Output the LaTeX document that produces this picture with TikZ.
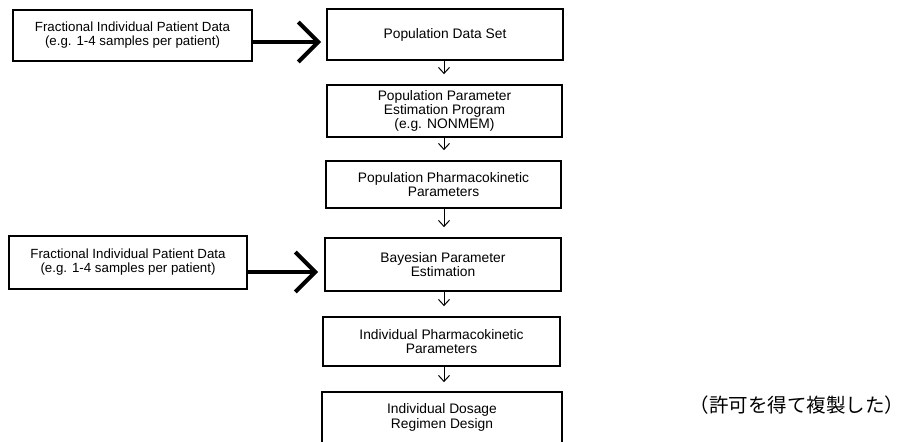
\documentclass[tikz,border=0pt]{standalone}
\usepackage{fontspec}
\setmainfont{Liberation Sans}
\newfontfamily\jpfont{Noto Sans CJK JP}
\usetikzlibrary{arrows.meta}
\begin{document}
\begin{tikzpicture}[x=1pt,y=-1pt,
  box/.style={draw, line width=1.7pt, inner sep=0pt, align=center,
    font=\fontsize{13.8}{14.5}\selectfont},
  lbox/.style={box, font=\fontsize{13.3}{14}\selectfont},
  bigarrow/.style={line width=4pt, -{Straight Barb[length=20pt,width=40pt]}},
  smallarrow/.style={line width=1pt, -{Straight Barb[length=6pt,width=11pt]}, shorten >=10pt}]
\useasboundingbox (0,0) rectangle (911,442);
% left input boxes
\node[lbox, minimum width=239pt, minimum height=51pt] (L1) at (132.5,35.5)
  {Fractional Individual Patient Data\\(e.g. 1-4 samples per patient)};
\node[lbox, minimum width=238pt, minimum height=53pt] (L2) at (128,262.5)
  {Fractional Individual Patient Data\\(e.g. 1-4 samples per patient)};
% main column
\node[box, minimum width=236pt, minimum height=51pt] (B1) at (445,34.5) {Population Data Set};
\node[box, minimum width=235pt, minimum height=52pt, font=\fontsize{13.8}{12.5}\selectfont] (B2) at (444.5,111)
  {Population Parameter\\Estimation Program\\(e.g. NONMEM)};
\node[box, minimum width=235pt, minimum height=47pt] (B3) at (443.5,184.5)
  {Population Pharmacokinetic\\Parameters};
\node[box, minimum width=236pt, minimum height=53pt] (B4) at (443,264.5)
  {Bayesian Parameter\\Estimation};
\node[box, minimum width=237pt, minimum height=49pt] (B5) at (441.5,341.5)
  {Individual Pharmacokinetic\\Parameters};
\node[box, draw=none, minimum width=238pt, minimum height=49pt] (B6) at (442,417.5)
  {Individual Dosage\\Regimen Design};
\draw[line width=1.7pt] (B6.south west) -- (B6.north west) -- (B6.north east) -- (B6.south east);
% big arrows
\draw[bigarrow, shorten >=5pt] (L1.east |- 0,42) -- (B1.west |- 0,42);
\draw[bigarrow, shorten >=6pt] (L2.east |- 0,272) -- (B4.west |- 0,272);
% small arrows
\draw[smallarrow] (B1.south -| 444,0) -- (B2.north -| 444,0);
\draw[smallarrow] (B2.south -| 444,0) -- (B3.north -| 444,0);
\draw[smallarrow] (B3.south -| 444,0) -- (B4.north -| 444,0);
\draw[smallarrow] (B4.south -| 444,0) -- (B5.north -| 444,0);
\draw[smallarrow] (B5.south -| 444,0) -- (B6.north -| 444,0);
% note
\node[font=\jpfont\fontsize{19.5}{20}\selectfont, inner sep=0pt] (note) at (797,405) {（許可を得て複製した）};
\end{tikzpicture}
\end{document}
